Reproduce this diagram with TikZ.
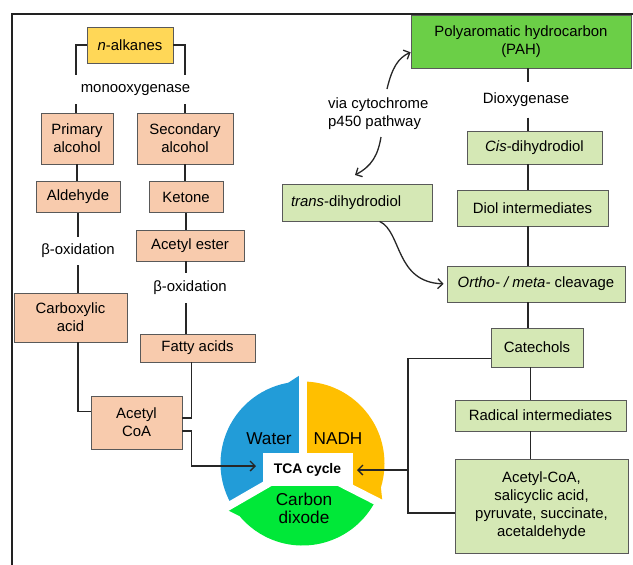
\documentclass[tikz,border=0pt]{standalone}
\usepackage{fontspec}
\setmainfont{Liberation Sans}
\usetikzlibrary{arrows.meta,calc}
\definecolor{salmon}{HTML}{F8CBAD}
\definecolor{yel}{HTML}{FFD757}
\definecolor{lgreen}{HTML}{D5E8B5}
\definecolor{pahg}{HTML}{6BCF47}
\definecolor{boxline}{HTML}{595959}
\definecolor{connc}{HTML}{262626}
\definecolor{framec}{HTML}{222222}
\definecolor{tblue}{HTML}{229CD8}
\definecolor{torange}{HTML}{FFBF00}
\definecolor{tgreen}{HTML}{00E838}
\begin{document}
\begin{tikzpicture}[x=1pt,y=-1pt,
  box/.style={draw=boxline, line width=0.8pt, inner sep=0pt, align=center, font=\fontsize{14.9}{18}\selectfont},
  sbox/.style={box, fill=salmon},
  gbox/.style={box, fill=lgreen},
  lbl/.style={inner sep=0pt, align=center, font=\fontsize{14.9}{18}\selectfont},
  big/.style={inner sep=0pt, align=center, font=\fontsize{17.2}{17.5}\selectfont},
  conn/.style={draw=connc, line width=1.3pt},
  arr/.style={conn, -{Straight Barb[length=5pt,width=10pt]}},
]
\useasboundingbox (0,0) rectangle (633,565);
% frame
\draw[line width=1.8pt, framec] (12,565) -- (12,14) -- (633,14);

% TCA pie
\begin{scope}[shift={(302.5,463.5)}, yscale=-1]
  \fill[tblue] (0,0) -- (210:82) arc[start angle=210,end angle=90,radius=82] -- cycle;
  \fill[tblue] (90:72) -- (91:89) -- (100:82) -- cycle;
  \fill[torange] (0,0) -- (90:82) arc[start angle=90,end angle=-27,radius=82] -- cycle;
  \fill[torange] (-27:72) -- (-26:89) -- (-17:82) -- cycle;
  \fill[tgreen] (0,0) -- (-27:82) arc[start angle=-27,end angle=-150,radius=82] -- cycle;
  \fill[tgreen] (210:72) -- (211:89) -- (220:82) -- cycle;
  \foreach \a in {90,-27,210} \draw[white, line width=8pt] (0,0) -- (\a:94);
\end{scope}
\node[big] (water) at (269,439) {Water};
\node[big] (nadh) at (338,439) {NADH};
\node[big] (co2) at (304,508.5) {Carbon\\dixode};
\node[fill=white, inner sep=0pt, minimum width=90pt, minimum height=33pt,
      font=\bfseries\fontsize{13.9}{16}\selectfont] (tca) at (307.5,469.5) {TCA cycle};

% left branch
\node[box, fill=yel, minimum width=86pt, minimum height=36pt] (nalk) at (130,45) {\textit{n}-alkanes};
\node[lbl] (mono) at (135.5,90) {monooxygenase};
\node[sbox, minimum width=72pt, minimum height=51pt] (pa) at (77,138.5) {Primary\\alcohol};
\node[sbox, minimum width=96pt, minimum height=51pt] (sa) at (185,138.5) {Secondary\\alcohol};
\node[sbox, minimum width=84pt, minimum height=31pt] (ald) at (78,197) {Aldehyde};
\node[sbox, minimum width=74pt, minimum height=31pt] (ket) at (186,197) {Ketone};
\node[lbl, minimum height=28pt] (bo1) at (78,251) {β-oxidation};
\node[sbox, minimum width=108pt, minimum height=31pt] (aest) at (190,245.5) {Acetyl ester};
\node[lbl, minimum height=30pt] (bo2) at (190,288) {β-oxidation};
\node[sbox, minimum width=113pt, minimum height=49pt] (carb) at (70.5,317.5) {Carboxylic\\acid};
\node[sbox, minimum width=115pt, minimum height=28pt] (fatty) at (197.5,348) {Fatty acids};
\node[sbox, minimum width=91pt, minimum height=53pt] (acoa) at (136.5,422.5) {Acetyl\\CoA};

\coordinate (mL) at (76,75);
\coordinate (mR) at (185,75);
\coordinate (mL2) at (76,104);
\coordinate (mR2) at (185,104);
\coordinate (tin) at (256,466);
\draw[conn] (nalk.west) -| (mL);
\draw[conn] (nalk.east) -| (mR);
\draw[conn] (mL2) -- (mL2 |- pa.north);
\draw[conn] (mR2) -- (mR2 |- sa.north);
\draw[conn] (pa.south) -- (pa.south |- ald.north);
\draw[conn] (sa.south) -- (sa.south |- ket.north);
\draw[conn] (ald.south) -- (bo1.north);
\draw[conn] (bo1.south) -- (bo1.south |- carb.north);
\draw[conn] (ket.south) -- (ket.south |- aest.north);
\draw[conn] (ket.south |- aest.south) -- (ket.south |- bo2.north);
\draw[conn] (ket.south |- bo2.south) -- (ket.south |- fatty.north);
\draw[conn] (bo1.south |- carb.south) |- ($(acoa.north west)!0.3!(acoa.south west)$);
\draw[conn] ($(fatty.south west)!0.45!(fatty.south east)$) |- ($(acoa.north east)!0.415!(acoa.south east)$);
\draw[arr] ($(acoa.north east)!0.66!(acoa.south east)$) -- ++(9,0) |- (tin);

% right branch
\node[box, fill=pahg, minimum width=220pt, minimum height=53pt] (pah) at (521,41.5) {Polyaromatic hydrocarbon\\(PAH)};
\node[lbl, minimum height=35pt] (diox) at (526,100) {Dioxygenase};
\node[gbox, minimum width=135pt, minimum height=33pt] (cis) at (534.5,147.5) {\textit{Cis}-dihydrodiol};
\node[gbox, minimum width=151pt, minimum height=36pt] (diol) at (532.5,208) {Diol intermediates};
\node[gbox, minimum width=150pt, minimum height=37pt, text width=132pt, align=left] (trans) at (357,202.5) {\textit{trans}-dihydrodiol};
\node[gbox, minimum width=178pt, minimum height=36pt] (ortho) at (536,284) {\textit{Ortho- / meta-} cleavage};
\node[gbox, minimum width=92pt, minimum height=39pt] (cat) at (537,347.5) {Catechols};
\node[gbox, minimum width=171pt, minimum height=31pt] (rad) at (540.5,415.5) {Radical intermediates};
\node[gbox, minimum width=173pt, minimum height=94pt] (fin) at (541.5,506) {Acetyl-CoA,\\salicyclic acid,\\pyruvate, succinate,\\acetaldehyde};
\node[lbl, align=left, anchor=west] (viac) at (328,114) {via cytochrome\\p450 pathway};

\coordinate (vx) at (528,0);
\coordinate (vy) at (530.5,0);
\coordinate (brx) at (408,0);
\coordinate (tout) at (357,470);
\coordinate (c1) at (387,89);
\coordinate (c2) at (381,137);
\coordinate (c2e) at (355,175);
\coordinate (finp) at ($(fin.north west)!0.574!(fin.south west)$);
\coordinate (catp) at ($(cat.north west)!0.77!(cat.south west)$);
\draw[conn] (vx |- pah.south) -- (vx |- diox.north);
\draw[conn] (vx |- diox.south) -- (vx |- cis.north);
\draw[conn] (vx |- cis.south) -- (vx |- diol.north);
\draw[conn] (vx |- diol.south) -- (vx |- ortho.north);
\draw[conn] (vx |- ortho.south) -- (vx |- cat.north);
\draw[conn] (vy |- cat.south) -- (vy |- rad.north);
\draw[conn] (vy |- rad.south) -- (vy |- fin.north);
\draw[conn] (catp) -| (brx |- finp) -- (finp);
\draw[arr] (brx |- tout) -- (tout);
\draw[arr] (c1) .. controls (392,68) and (398,58) .. ($(pah.north west)!0.7!(pah.south west)$);
\draw[arr] (c2) .. controls (378,155) and (372,166) .. (c2e);
\draw[arr, shorten >=3pt] ($(trans.south west)!0.65!(trans.south east)$) .. controls (402,232) and (395,282) .. (ortho.west);
\end{tikzpicture}
\end{document}
